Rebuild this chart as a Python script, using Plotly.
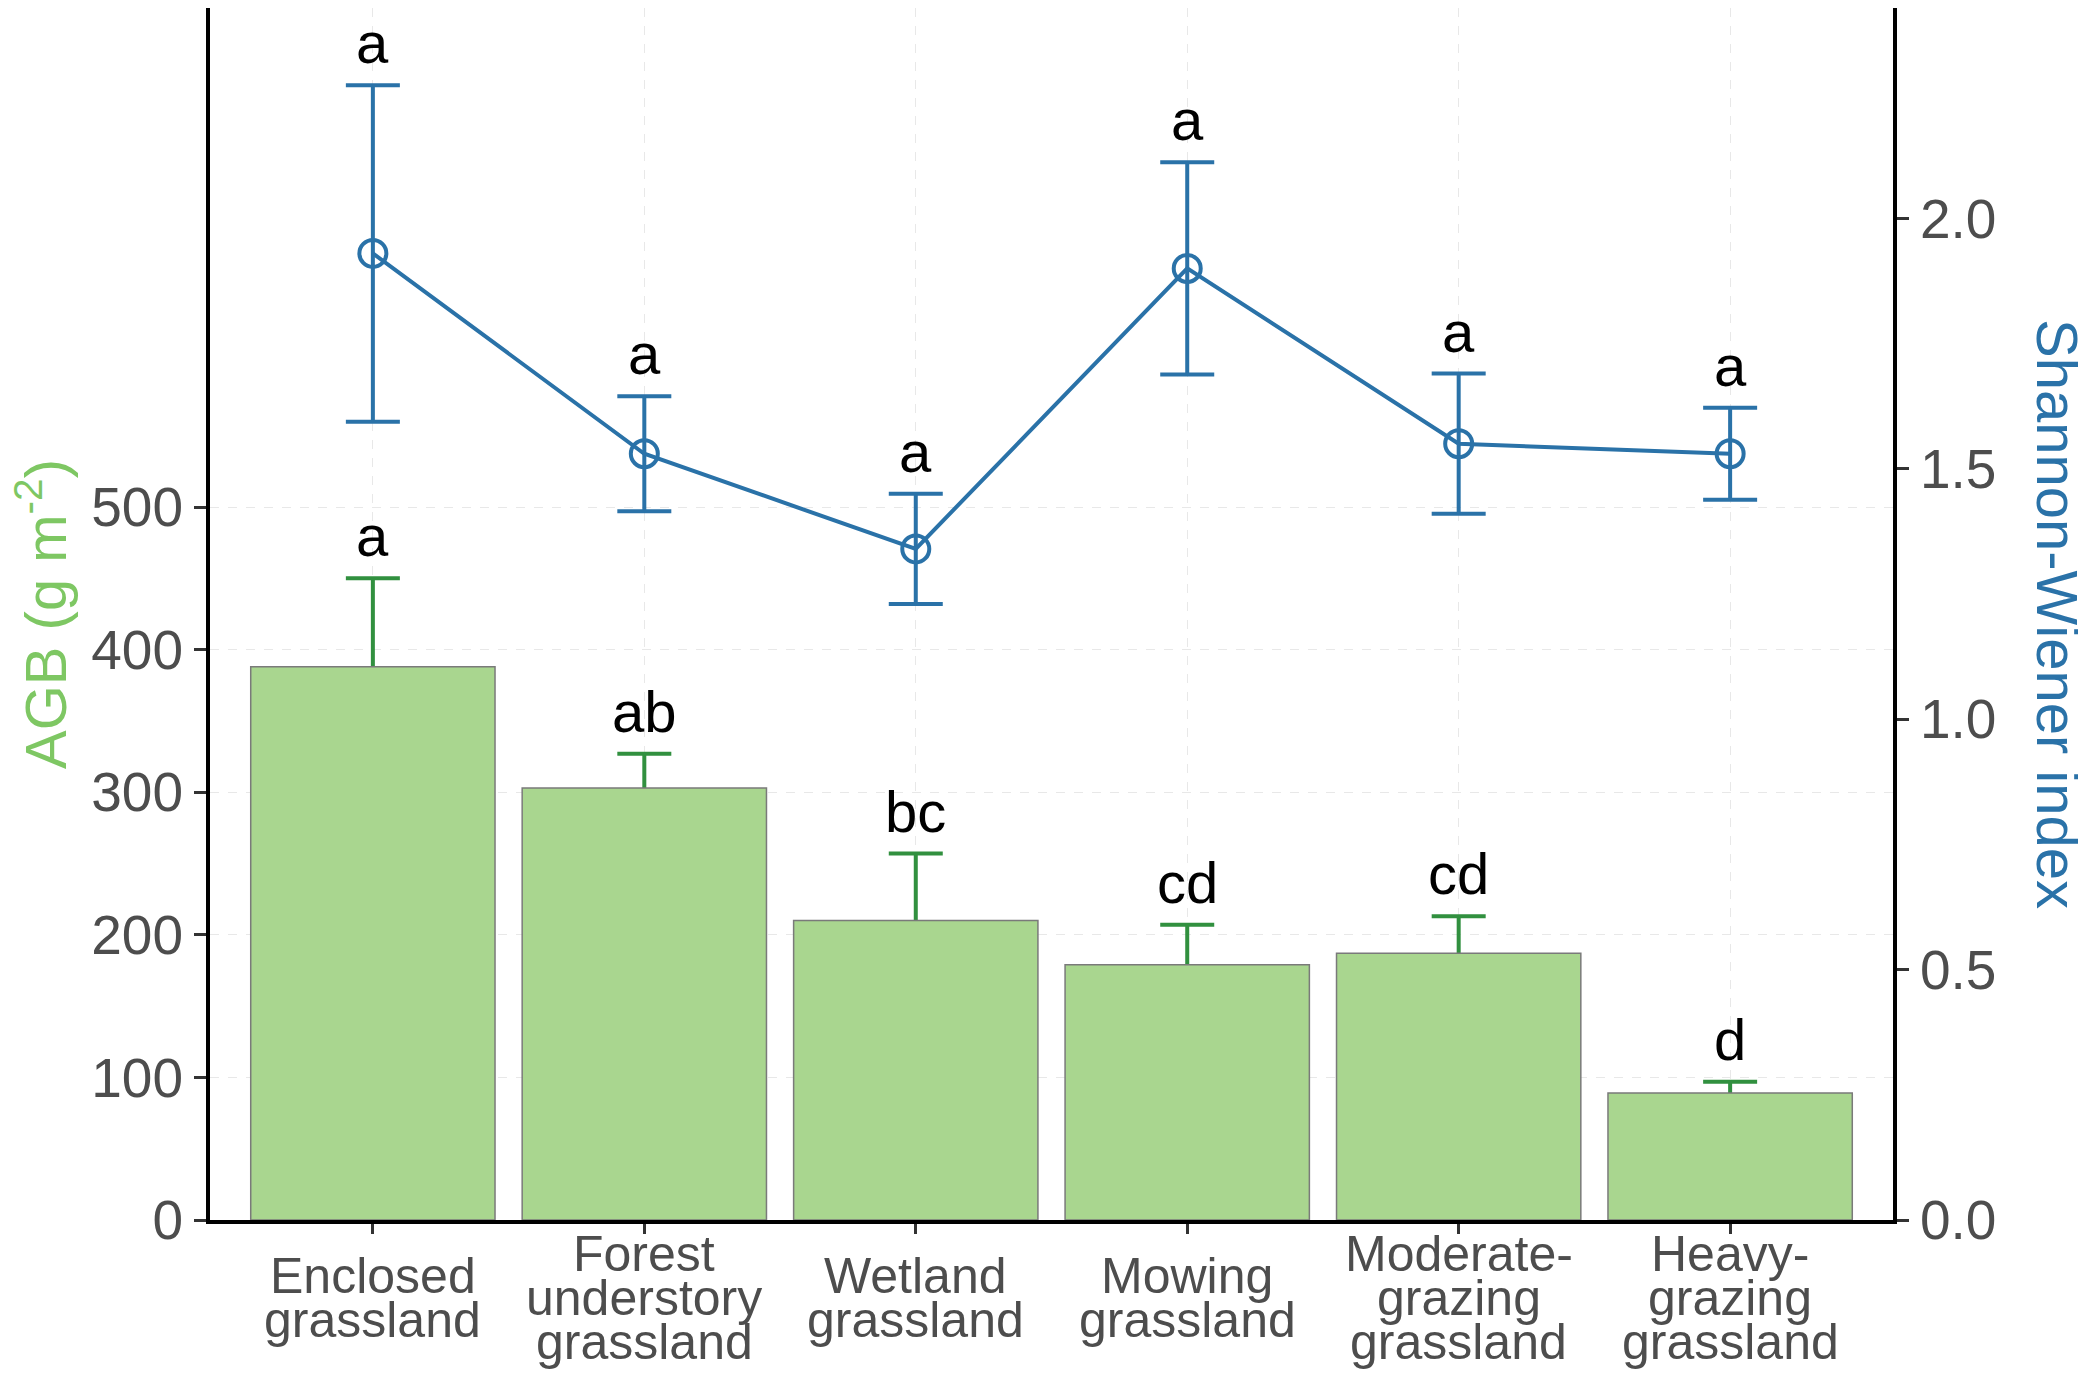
import plotly.graph_objects as go

# groups and the labels shown under the axis
categories = ["Enclosed grassland", "Forest understory grassland", "Wetland grassland",
              "Mowing grassland", "Moderate-grazing grassland", "Heavy-grazing grassland"]
category_labels = ["Enclosed\ngrassland", "Forest\nunderstory\ngrassland", "Wetland\ngrassland",
                   "Mowing\ngrassland", "Moderate-\ngrazing\ngrassland", "Heavy-\ngrazing\ngrassland"]

# aboveground biomass (bars, left axis)
agb_mean = [388, 303, 210, 179, 187, 89]
agb_se = [62, 24, 47, 28, 26, 8]
agb_letters = ["a", "ab", "bc", "cd", "cd", "d"]

# Shannon-Wiener index (line, right axis)
shannon_mean = [1.93, 1.53, 1.34, 1.90, 1.55, 1.53]
shannon_se = [0.336, 0.115, 0.11, 0.212, 0.14, 0.092]
shannon_letters = ["a", "a", "a", "a", "a", "a"]

left_ticks = [0, 100, 200, 300, 400, 500]
right_ticks = [0.0, 0.5, 1.0, 1.5, 2.0]

FONT = "Liberation Sans, Arial, sans-serif"
BAR_FILL = "#a9d68f"
BAR_ERR = "#31903f"
BLUE = "#2a72a8"
GREEN_TITLE = "#7ec763"
TICK_TXT = "#4d4d4d"
GRID = "#e8e8e8"

# the page body keeps its 8px margin, so the figure is a bit smaller than the window
W, H = 2070, 1362
M = dict(l=202, r=185, t=0, b=150)

fig = go.Figure()

# upward error bars for the bars; lower end is tucked inside the bar
hide = [20] * len(agb_mean)
fig.add_trace(go.Scatter(
    x=categories, y=agb_mean, mode="markers", marker=dict(opacity=0),
    error_y=dict(type="data", symmetric=False, array=agb_se, arrayminus=hide,
                 color=BAR_ERR, thickness=4, width=27),
    hoverinfo="skip", showlegend=False, yaxis="y"))

fig.add_trace(go.Bar(
    x=categories, y=agb_mean, width=0.9,
    marker=dict(color=BAR_FILL, line=dict(color="#7a7a7a", width=1.5)),
    showlegend=False, yaxis="y3"))

fig.add_trace(go.Scatter(
    x=categories, y=shannon_mean, mode="lines+markers",
    line=dict(color=BLUE, width=4),
    marker=dict(symbol="circle-open", size=27, color=BLUE, line=dict(width=4, color=BLUE)),
    error_y=dict(type="data", array=shannon_se, color=BLUE, thickness=4, width=27),
    showlegend=False, yaxis="y2"))

annotations = []
for c, v, e, t in zip(categories, agb_mean, agb_se, agb_letters):
    annotations.append(dict(x=c, y=v + e, xref="x", yref="y", text=t, showarrow=False,
                            yanchor="bottom", yshift=8, font=dict(family=FONT, size=58, color="black")))
for c, v, e, t in zip(categories, shannon_mean, shannon_se, shannon_letters):
    annotations.append(dict(x=c, y=v + e, xref="x", yref="y2", text=t, showarrow=False,
                            yanchor="bottom", yshift=8, font=dict(family=FONT, size=58, color="black")))

# category labels, one annotation per line so the lines sit close together
line_gap = 44
for c, lab in zip(categories, category_labels):
    lines = lab.split("\n")
    n = len(lines)
    for i, ln in enumerate(lines):
        base = 95 + (i - (n - 1) / 2) * line_gap
        annotations.append(dict(x=c, y=0, xref="x", yref="paper", text=ln, showarrow=False,
                                yanchor="middle", yshift=-(base - 17), borderpad=0,
                                font=dict(family=FONT, size=50, color=TICK_TXT)))

pw = W - M["l"] - M["r"]
annotations.append(dict(x=(33 - M["l"]) / pw, y=0.5, xref="paper", yref="paper",
                        text="AGB (g m<sup>-2</sup>)", textangle=-90, showarrow=False,
                        xanchor="center", yanchor="middle", borderpad=0,
                        font=dict(family=FONT, size=58, color=GREEN_TITLE)))
annotations.append(dict(x=(2050 - M["l"]) / pw, y=0.5, xref="paper", yref="paper",
                        text="Shannon-Wiener index", textangle=90, showarrow=False,
                        xanchor="center", yanchor="middle", borderpad=0,
                        font=dict(family=FONT, size=58, color=BLUE)))

fig.update_layout(
    width=W, height=H, margin=M,
    paper_bgcolor="white", plot_bgcolor="white",
    font=dict(family=FONT),
    xaxis=dict(type="category", categoryorder="array", categoryarray=categories,
               range=[-0.6, 5.6], showline=True, linecolor="black", linewidth=4,
               ticks="outside", ticklen=10, tickwidth=3, tickcolor="#333333",
               showticklabels=False, showgrid=True, gridcolor=GRID, griddash="dash",
               gridwidth=1, zeroline=False),
    yaxis=dict(range=[0, 850], tickvals=left_ticks, ticks="outside", ticklen=12,
               tickwidth=3, tickcolor="#333333",
               tickfont=dict(family=FONT, size=55, color=TICK_TXT),
               showline=True, linecolor="black", linewidth=4,
               showgrid=True, gridcolor=GRID, griddash="dash", gridwidth=1,
               zeroline=False, ticklabelstandoff=0),
    yaxis2=dict(overlaying="y", side="right", range=[0, 2.42], tickvals=right_ticks,
                tickformat=".1f", ticks="outside", ticklen=12, tickwidth=3,
                tickcolor="#333333", tickfont=dict(family=FONT, size=55, color=TICK_TXT),
                showline=True, linecolor="black", linewidth=4, showgrid=False,
                zeroline=False, ticklabelstandoff=0),
    yaxis3=dict(overlaying="y", range=[0, 850], visible=False),
    annotations=annotations,
)

fig.write_html("out.html")
